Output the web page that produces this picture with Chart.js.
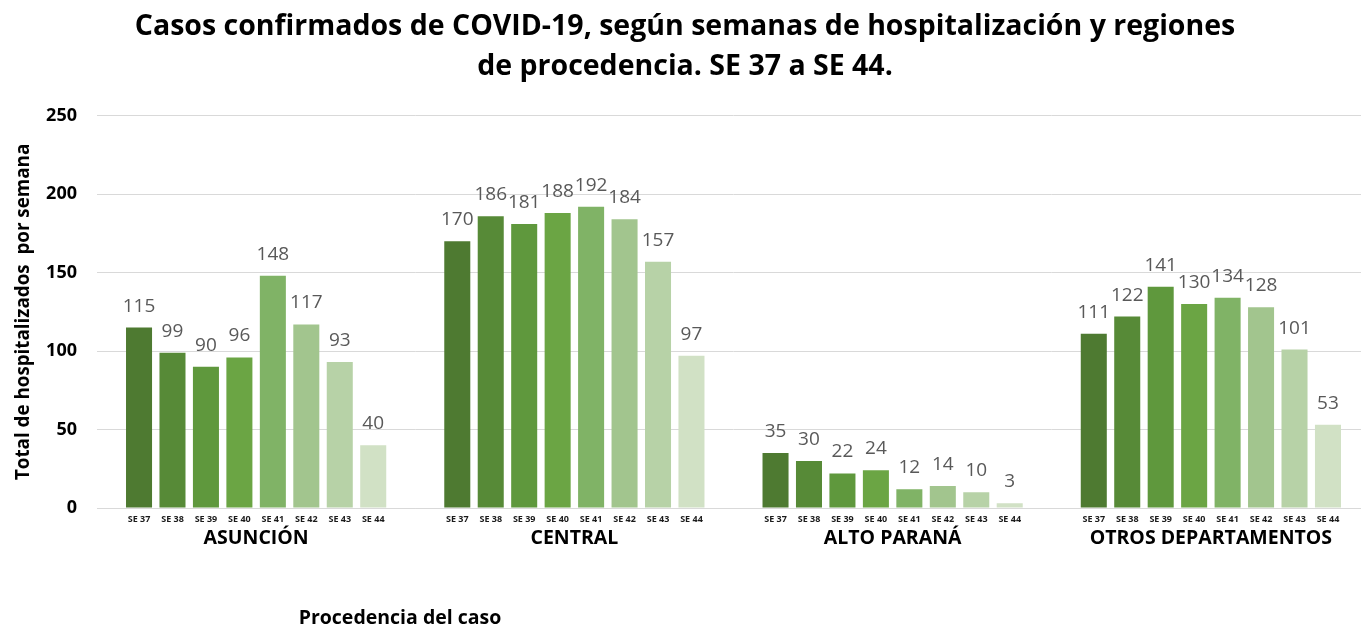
<!DOCTYPE html>
<html>
<head>
<meta charset="utf-8">
<script src="https://cdn.jsdelivr.net/npm/chart.js@4.4.0/dist/chart.umd.min.js"></script>
<style>
html,body{margin:0;padding:0;background:#fff;overflow:hidden;}
#wrap{width:1361px;height:626px;position:relative;overflow:hidden;}
canvas{display:block;}
</style>
</head>
<body>
<div id="wrap"><canvas id="c" width="1371" height="626"></canvas></div>
<script>
const regions = ['ASUNCIÓN', 'CENTRAL', 'ALTO PARANÁ', 'OTROS DEPARTAMENTOS'];
const weeks = ['SE 37', 'SE 38', 'SE 39', 'SE 40', 'SE 41', 'SE 42', 'SE 43', 'SE 44'];
const se37 = [115, 170, 35, 111];
const se38 = [99, 186, 30, 122];
const se39 = [90, 181, 22, 141];
const se40 = [96, 188, 24, 130];
const se41 = [148, 192, 12, 134];
const se42 = [117, 184, 14, 128];
const se43 = [93, 157, 10, 101];
const se44 = [40, 97, 3, 53];
const yTicks = [0, 50, 100, 150, 200, 250];
const weekColors = ['#4e7a31', '#578a37', '#5f983d', '#6ba544', '#80b366', '#a2c58e', '#b7d2a7', '#d1e1c5'];

const seriesValues = [se37, se38, se39, se40, se41, se42, se43, se44];
const FONT = '"Open Sans", sans-serif';

const labelPlugin = {
  id: 'labelPlugin',
  afterDatasetsDraw(chart) {
    const ctx = chart.ctx;
    const area = chart.chartArea;
    ctx.save();
    chart.data.datasets.forEach((ds, i) => {
      const meta = chart.getDatasetMeta(i);
      meta.data.forEach((el, j) => {
        ctx.fillStyle = '#595959';
        ctx.font = '19px ' + FONT;
        ctx.textAlign = 'center';
        ctx.textBaseline = 'alphabetic';
        ctx.fillText(String(ds.data[j]), el.x, el.y - 16);
        ctx.fillStyle = '#1a1a1a';
        ctx.font = 'bold 9px ' + FONT;
        ctx.textBaseline = 'middle';
        ctx.fillText(ds.label, el.x, area.bottom + 11);
      });
    });
    ctx.fillStyle = '#000';
    ctx.font = 'bold 19.5px ' + FONT;
    ctx.textAlign = 'center';
    ctx.textBaseline = 'middle';
    ctx.fillText('Procedencia del caso', 400, 618);
    ctx.restore();
  }
};

new Chart(document.getElementById('c'), {
  type: 'bar',
  data: {
    labels: regions,
    datasets: weeks.map((w, i) => ({
      label: w,
      data: seriesValues[i],
      backgroundColor: weekColors[i],
      borderWidth: 0,
      categoryPercentage: 0.841,
      barPercentage: 0.778
    }))
  },
  options: {
    responsive: false,
    animation: false,
    layout: { padding: { left: 0, right: 1, top: 0, bottom: 0 } },
    plugins: {
      legend: { display: false },
      tooltip: { enabled: false },
      title: {
        display: true,
        text: ['Casos confirmados de COVID-19, según semanas de hospitalización y regiones', 'de procedencia. SE 37 a SE 44.'],
        color: '#000',
        font: { family: FONT, size: 28.5, weight: 'bold', lineHeight: 1.4 },
        padding: { top: 7, bottom: 29 }
      }
    },
    scales: {
      x: {
        grid: { display: false, drawTicks: false },
        border: { display: true, color: '#d9d9d9', width: 1 },
        ticks: {
          color: '#000',
          font: { family: FONT, size: 19.5, weight: 'bold' },
          padding: 19,
          maxRotation: 0
        },
        afterFit(scale) { scale.height = 118; }
      },
      y: {
        min: 0,
        max: 250,
        afterBuildTicks(scale) { scale.ticks = yTicks.map(v => ({ value: v })); },
        grid: { color: '#d9d9d9', lineWidth: 1, drawTicks: false },
        border: { display: false },
        ticks: {
          color: '#000',
          font: { family: FONT, size: 18, weight: 'bold' },
          padding: 20
        },
        title: {
          display: true,
          text: 'Total de hospitalizados  por semana',
          color: '#000',
          font: { family: FONT, size: 18.8, weight: 'bold' },
          padding: { top: 12, bottom: 0 }
        },
        afterFit(scale) { scale.width = 97; }
      }
    }
  },
  plugins: [labelPlugin]
});
</script>
</body>
</html>
